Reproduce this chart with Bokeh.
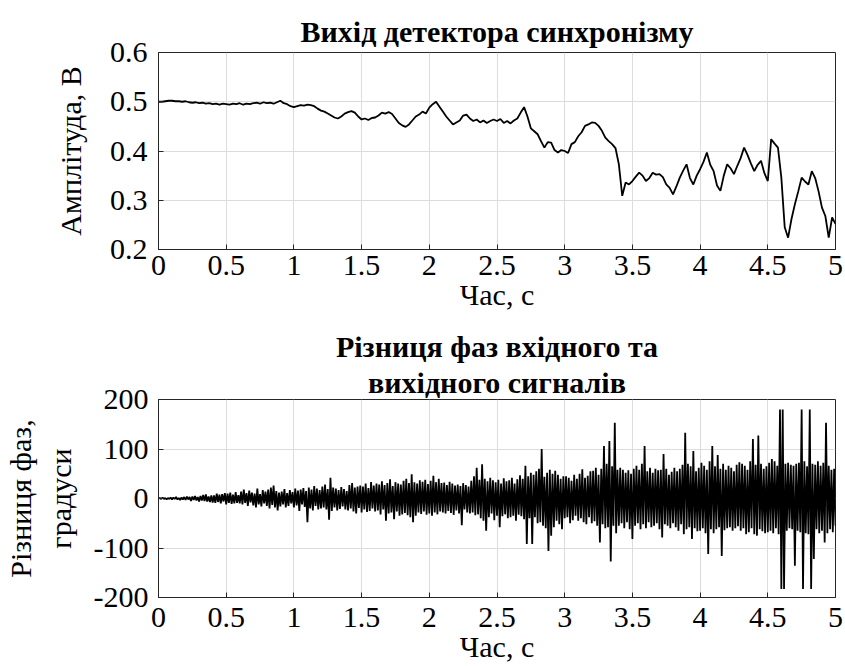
import numpy as np
from bokeh.plotting import figure
from bokeh.layouts import column
from bokeh.models import FixedTicker, Range1d, Title
from bokeh.embed import file_html
from bokeh.resources import INLINE

# ---------------- data ----------------
title_top = "Вихід детектора синхронізму"
title_bottom_1 = "Різниця фаз вхідного та"
title_bottom_2 = "вихідного сигналів"
xlabel = "Час, с"
ylabel_top = "Амплітуда, В"
ylabel_bottom = "Різниця фаз,\nградуси"

x_ticks = [0, 0.5, 1, 1.5, 2, 2.5, 3, 3.5, 4, 4.5, 5]
x_tick_labels = ["0", "0.5", "1", "1.5", "2", "2.5", "3", "3.5", "4", "4.5", "5"]
y_ticks_top = [0.2, 0.3, 0.4, 0.5, 0.6]
y_tick_labels_top = ["0.2", "0.3", "0.4", "0.5", "0.6"]
y_ticks_bottom = [-200, -100, 0, 100, 200]
y_tick_labels_bottom = ["-200", "-100", "0", "100", "200"]

# detector output, sampled every 0.025 s (0 .. 5 s)
amplitude = [
    0.500, 0.500, 0.501, 0.502, 0.502, 0.501, 0.501, 0.500, 0.501, 0.499, 0.498,
    0.499, 0.497, 0.498, 0.496, 0.497, 0.495, 0.496, 0.494, 0.496, 0.495,
    0.494, 0.496, 0.495, 0.497, 0.494, 0.496, 0.495, 0.497, 0.498, 0.496,
    0.499, 0.497, 0.498, 0.496, 0.499, 0.502, 0.497, 0.495, 0.491, 0.489,
    0.491, 0.493, 0.492, 0.494, 0.493, 0.491, 0.486, 0.482, 0.480, 0.476,
    0.472, 0.468, 0.466, 0.470, 0.476, 0.479, 0.481, 0.478, 0.470, 0.464,
    0.466, 0.463, 0.467, 0.468, 0.472, 0.478, 0.476, 0.479, 0.475, 0.466,
    0.457, 0.452, 0.449, 0.454, 0.462, 0.470, 0.474, 0.480, 0.476, 0.488,
    0.495, 0.500, 0.490, 0.480, 0.470, 0.462, 0.454, 0.458, 0.462, 0.472,
    0.474, 0.466, 0.461, 0.464, 0.458, 0.462, 0.457, 0.461, 0.464, 0.461,
    0.465, 0.457, 0.461, 0.456, 0.462, 0.466, 0.478, 0.489, 0.470, 0.446,
    0.440, 0.434, 0.420, 0.407, 0.418, 0.417, 0.402, 0.397, 0.402, 0.400,
    0.396, 0.414, 0.418, 0.430, 0.438, 0.451, 0.454, 0.458, 0.457, 0.451,
    0.441, 0.427, 0.420, 0.414, 0.406, 0.373, 0.309, 0.336, 0.332, 0.339,
    0.348, 0.356, 0.350, 0.339, 0.345, 0.356, 0.352, 0.353, 0.347, 0.332,
    0.325, 0.312, 0.328, 0.346, 0.360, 0.373, 0.345, 0.332, 0.350, 0.363,
    0.378, 0.397, 0.372, 0.359, 0.330, 0.319, 0.350, 0.373, 0.365, 0.353,
    0.370, 0.386, 0.407, 0.392, 0.375, 0.359, 0.372, 0.380, 0.355, 0.339,
    0.424, 0.415, 0.407, 0.346, 0.245, 0.224, 0.262, 0.292, 0.318, 0.346,
    0.338, 0.332, 0.359, 0.345, 0.318, 0.285, 0.268, 0.224, 0.265, 0.252,
]

# phase difference, sampled every 0.01 s (0 .. 5 s)
phase = [
    0, 1, -1, 2, -1, 1, -2, 1, -1, 2,
    -2, 2, -1, 3, -2, 1, -3, 2, -2, 3,
    -3, 4, -2, 3, -5, 4, -3, 5, -4, 3,
    -6, 5, -4, 7, -5, 8, -6, 4, -7, 6,
    -8, 6, -9, 10, -7, 8, -10, 9, -6, 11,
    -12, 10, -9, 12, -11, 8, -10, 13, -9, 7,
    -10, 14, -12, 18, -9, 11, -15, 16, -8, 12,
    -14, 10, -18, 20, -12, 9, -16, 17, -10, 14,
    -15, 18, -20, 22, -13, 26, -18, 15, -24, 12,
    -16, 14, -12, 19, -18, 11, -15, 17, -10, 13,
    -18, 20, -14, 16, -25, 18, -12, 21, -17, 15,
    -48, 22, -20, 18, -24, 25, -15, 20, -22, 17,
    -20, 24, -18, 28, -22, 19, -43, 42, -25, 22,
    -18, 20, -24, 17, -21, 23, -16, 19, -22, 15,
    -24, 27, -20, 31, -26, 22, -30, 24, -19, 26,
    -28, 24, -22, 30, -27, 21, -25, 33, -20, 26,
    -26, 30, -24, 28, -32, 35, -22, 27, -45, 31,
    -30, 39, -28, 25, -42, 33, -26, 30, -35, 28,
    -32, 36, -29, 40, -34, 31, -38, 49, -48, 33,
    -35, 30, -28, 37, -31, 34, -26, 38, -33, 29,
    -30, 36, -35, 46, -28, 33, -32, 40, -26, 31,
    -28, 32, -30, 27, -25, 34, -29, 30, -33, 26,
    -24, 28, -30, 25, -54, 31, -22, 27, -28, 24,
    -30, 36, -28, 45, -34, 62, -32, 38, -40, 69,
    -45, 40, -65, 35, -38, 42, -30, 37, -44, 33,
    -35, 38, -58, 30, -36, 41, -32, 35, -40, 37,
    -38, 42, -35, 30, -45, 39, -33, 47, -36, 40,
    -42, 66, -92, 45, -40, 52, -92, 48, -38, 55,
    -50, 60, -48, 100, -55, 44, -60, 52, -106, 58,
    -75, 50, -58, 56, -45, 48, -52, 40, -62, 45,
    -40, 45, -38, 42, -50, 36, -44, 48, -35, 40,
    -45, 50, -40, 59, -48, 42, -52, 46, -38, 55,
    -50, 56, -46, 62, -55, 48, -89, 60, -52, 106,
    -60, 70, -58, 116, -127, 65, -55, 153, -70, 58,
    -55, 62, -50, 58, -60, 52, -48, 57, -62, 50,
    -82, 60, -55, 66, -50, 58, -62, 70, -52, 106,
    -60, 55, -48, 62, -58, 52, -55, 60, -50, 57,
    -62, 58, -79, 90, -52, 60, -55, 48, -60, 54,
    -50, 62, -58, 55, -65, 60, -52, 68, -72, 133,
    -62, 70, -58, 65, -82, 96, -60, 55, -66, 62,
    -65, 72, -60, 66, -70, 58, -112, 75, -62, 106,
    -70, 65, -62, 88, -58, 60, -116, 70, -64, 58,
    -60, 66, -58, 62, -65, 55, -60, 68, -56, 73,
    -65, 70, -60, 66, -72, 58, -68, 75, -60, 120,
    -72, 68, -75, 127, -62, 70, -66, 60, -70, 65,
    -68, 72, -65, 80, -70, 75, -60, 66, -72, 180,
    -183, 180, -183, 70, -65, 72, -60, 68, -62, 66,
    -136, 70, -65, 72, -68, 180, -183, 75, -70, 65,
    -72, 180, -183, 70, -122, 68, -62, 75, -70, 66,
    -65, 72, -89, 153, -70, 66, -62, 58, -68, 60,
    -55,
]

t_amp = np.linspace(0, 5, len(amplitude))
t_phase = np.linspace(0, 5, len(phase))

FONT = "'Liberation Serif', 'Times New Roman', serif"
TXT = "#000000"
AX = "#262626"
GRID = "#dcdcdc"
TICK_FS = "30px"
LABEL_FS = "30px"
TITLE_FS = "30px"


def style_title(t):
    t.text_font = FONT
    t.text_font_size = TITLE_FS
    t.text_font_style = "bold"
    t.text_color = TXT
    t.align = "center"


def make(height, ylim, yticks, ylabels, titles, ylabel, borders, xstand, ystand, tstand, lstand):
    top, bottom = borders
    p = figure(width=845, height=height, output_backend="svg", toolbar_location=None,
               x_range=Range1d(0, 5), y_range=Range1d(*ylim),
               min_border_left=157, min_border_right=10,
               min_border_top=top, min_border_bottom=bottom,
               title=titles[0])
    p.background_fill_color = "white"
    p.border_fill_color = "white"
    p.outline_line_color = AX
    p.outline_line_width = 1
    style_title(p.title)
    p.title.standoff = 0 if len(titles) > 1 else tstand
    for txt in titles[1:]:
        t = Title(text=txt)
        style_title(t)
        t.standoff = tstand
        p.add_layout(t, "above")

    p.xaxis.ticker = FixedTicker(ticks=x_ticks)
    p.xaxis.major_label_overrides = dict(zip(x_ticks, x_tick_labels))
    p.yaxis.ticker = FixedTicker(ticks=yticks)
    p.yaxis.major_label_overrides = dict(zip(yticks, ylabels))
    p.xaxis.axis_label = xlabel
    p.yaxis.axis_label = ylabel

    for ax in (p.xaxis, p.yaxis):
        ax.major_label_text_font = FONT
        ax.major_label_text_font_size = TICK_FS
        ax.major_label_text_color = TXT
        ax.axis_label_text_font = FONT
        ax.axis_label_text_font_size = LABEL_FS
        ax.axis_label_text_font_style = "normal"
        ax.axis_label_text_color = TXT
        ax.major_tick_in = 5
        ax.major_tick_out = 0
        ax.minor_tick_in = 0
        ax.minor_tick_out = 0
        ax.axis_line_color = AX
        ax.major_tick_line_color = AX
    p.xaxis.major_label_standoff = xstand
    p.xaxis.axis_label_standoff = 0
    p.yaxis.major_label_standoff = ystand
    p.yaxis.axis_label_standoff = lstand

    p.xgrid.ticker = FixedTicker(ticks=x_ticks)
    p.ygrid.ticker = FixedTicker(ticks=yticks)
    p.grid.grid_line_color = GRID
    p.grid.grid_line_width = 1
    return p


p1 = make(326, (0.2, 0.6), y_ticks_top, y_tick_labels_top, [title_top], ylabel_top,
          (52, 77), 6, 11, 9, 20)
p1.line(t_amp, amplitude, line_color="black", line_width=1.8)

p2 = make(340, (-200, 200), y_ticks_bottom, y_tick_labels_bottom,
          [title_bottom_1, title_bottom_2], ylabel_bottom, (73, 69), 10, 10, 2, 14)
p2.line(t_phase, phase, line_color="black", line_width=1.8)

layout = column(p1, p2, spacing=0)

html = file_html(layout, INLINE)
html = html.replace("<head>", "<head><style>html,body{margin:0;padding:0;}</style>", 1)
open("out.html", "w").write(html)
